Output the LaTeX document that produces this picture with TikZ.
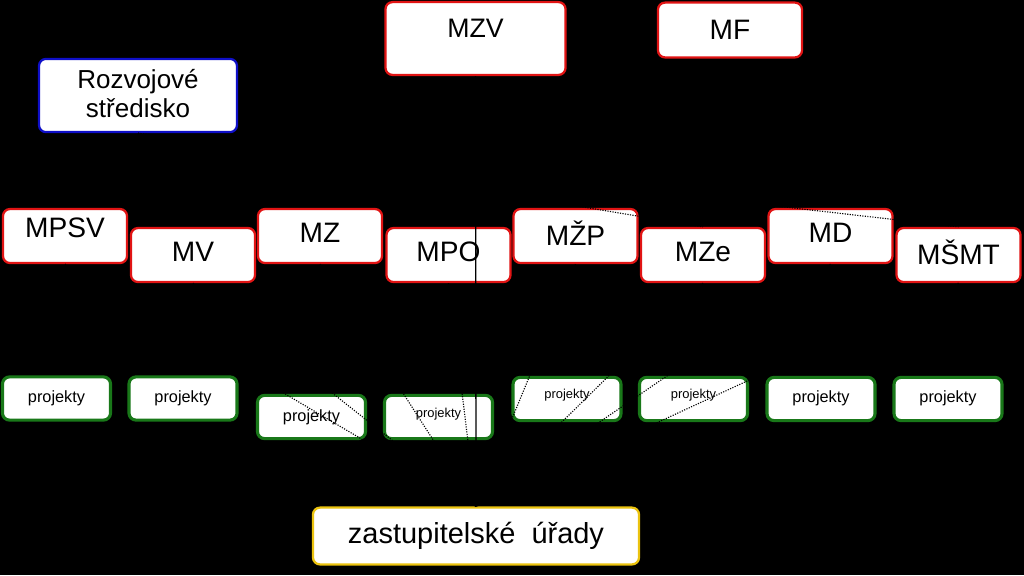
\documentclass[tikz,border=0pt]{standalone}
\usepackage{fontspec}
\setmainfont{Liberation Sans}
\usepackage{xcolor}
\usetikzlibrary{positioning}

\definecolor{minred}{RGB}{225,20,20}
\definecolor{rsblue}{RGB}{15,15,200}
\definecolor{projgreen}{RGB}{25,120,25}
\definecolor{zuyellow}{RGB}{235,195,15}

\tikzset{
  box/.style={draw, fill=white, rounded corners=5pt, line width=1.6pt, align=center, font=\fontsize{20}{22}\selectfont},
  ministry/.style={box, draw=minred, minimum width=3.1cm, minimum height=1.35cm, text depth=0.15cm},
  projbox/.style={box, draw=projgreen, line width=2.2pt, minimum width=2.7cm, minimum height=1.08cm, font=\fontsize{11.6}{13}\selectfont},
  smallproj/.style={projbox, font=\fontsize{9.2}{11}\selectfont},
  link/.style={densely dotted, line width=0.8pt},
}

\begin{document}
\begin{tikzpicture}[x=0.025cm, y=-0.025cm]
    \fill[black] (0,0) rectangle (1024,575);
    \useasboundingbox (0,0) rectangle (1024,575);

    % ---------------- TOP ----------------
    \node[box, draw=minred, minimum width=4.5cm, minimum height=1.82cm, text depth=0.5cm, font=\fontsize{19}{22}\selectfont] (mzv) at (475.5,38.5) {MZV};
    \node[box, draw=minred, minimum width=3.6cm, minimum height=1.37cm] (mf) at (730,30) {MF};
    \node[box, draw=rsblue, minimum width=4.95cm, minimum height=1.83cm, text depth=0.1cm, font=\fontsize{18.5}{20.6}\selectfont] (rs) at (138,95.5) {Rozvojové\\středisko};

    % ---------------- MINISTRIES ----------------
    \node[ministry, text depth=0.4cm] (mpsv) at (65,236) {MPSV};
    \node[ministry] (mv) at (193,255) {MV};
    \node[ministry] (mz) at (320,236) {MZ};
    \node[ministry] (mpo) at (448.5,255) {MPO};
    \node[ministry] (mzp) at (575.5,236) {MŽP};
    \node[ministry] (mze) at (703,255) {MZe};
    \node[ministry] (md) at (830.5,236) {MD};
    \node[ministry] (msmt) at (958.5,255) {MŠMT};

    % ---------------- PROJECTS ----------------
    \node[projbox, text depth=0.1cm] (pmpsv) at (56.5,398.5) {projekty};
    \node[projbox, text depth=0.1cm] (pmv) at (183,398.5) {projekty};
    \node[projbox] (pmz) at (311.5,417) {projekty};
    \node[smallproj, text depth=0.2cm] (pmpo) at (438.5,417) {projekty};
    \node[smallproj, text depth=0.25cm] (pmzp) at (567,399) {projekty};
    \node[smallproj, text depth=0.25cm] (pmze) at (693.5,399) {projekty};
    \node[projbox, text depth=0.1cm] (pmd) at (821,399) {projekty};
    \node[projbox, text depth=0.1cm] (pmsmt) at (948,399) {projekty};

    % ---------------- EMBASSIES ----------------
    \node[box, draw=zuyellow, minimum width=8.15cm, minimum height=1.42cm, font=\fontsize{20.6}{23}\selectfont] (zu) at (476,536) {zastupitelské\ \ úřady};

    % links
    \foreach \m in {mpsv,mv,mz,mpo,mzp,mze,md,msmt}
        \draw[link] (\m.south) -- (zu.north);
    \draw[link] (rs.south) -- (mze.north);
    \draw[link] (rs.south) -- (msmt.north);
    \draw[line width=0.9pt] (mzv.south) -- (zu.north);
\end{tikzpicture}
\end{document}
